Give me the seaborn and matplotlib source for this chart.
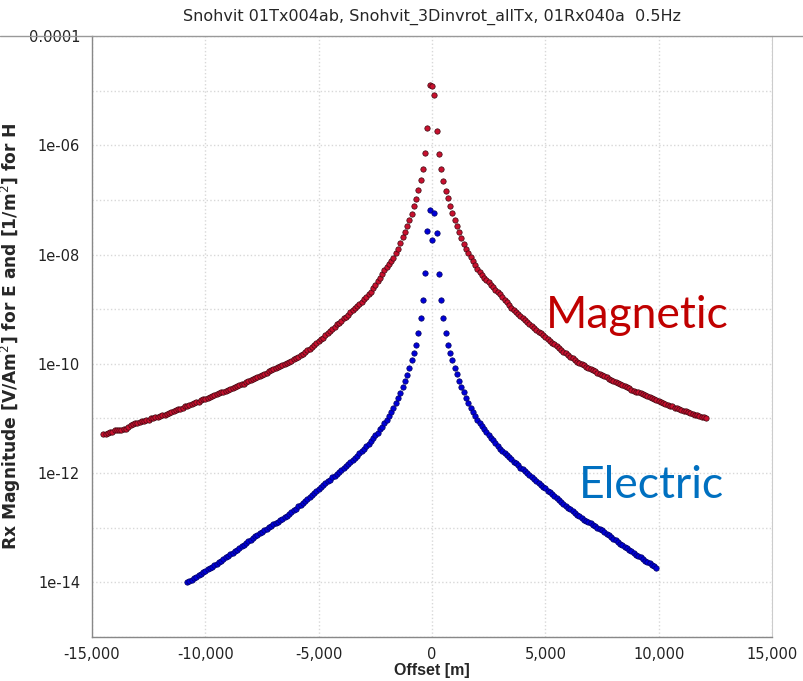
import numpy as np
import pandas as pd
import seaborn as sns
import matplotlib
matplotlib.use("Agg")
import matplotlib.pyplot as plt
from matplotlib.ticker import FixedLocator, FuncFormatter, MultipleLocator
from matplotlib.lines import Line2D

# offsets [m], sampled every 100 m
mag_offset = np.arange(-14500, 12101, 100)
elec_offset = np.arange(-10800, 9901, 100)

# log10 of Rx magnitude
mag_log = [
    -11.29, -11.28, -11.26, -11.25, -11.24, -11.22, -11.22, -11.21, -11.21, -11.20,
    -11.19, -11.16, -11.12, -11.10, -11.09, -11.08, -11.06, -11.05, -11.04, -11.03,
    -11.02, -11.00, -10.99, -10.98, -10.97, -10.95, -10.94, -10.93, -10.91, -10.90,
    -10.88, -10.86, -10.85, -10.83, -10.82, -10.80, -10.78, -10.77, -10.75, -10.73,
    -10.72, -10.70, -10.69, -10.67, -10.65, -10.64, -10.62, -10.61, -10.59, -10.57,
    -10.56, -10.54, -10.52, -10.51, -10.49, -10.47, -10.46, -10.44, -10.42, -10.41,
    -10.39, -10.37, -10.36, -10.34, -10.32, -10.30, -10.28, -10.26, -10.24, -10.22,
    -10.20, -10.18, -10.16, -10.14, -10.12, -10.10, -10.08, -10.06, -10.04, -10.02,
    -10.00, -9.98, -9.96, -9.94, -9.91, -9.89, -9.87, -9.84, -9.82, -9.79,
    -9.75, -9.72, -9.69, -9.66, -9.62, -9.59, -9.55, -9.52, -9.48, -9.44,
    -9.40, -9.36, -9.32, -9.28, -9.25, -9.21, -9.17, -9.14, -9.10, -9.06,
    -9.02, -8.98, -8.94, -8.90, -8.86, -8.82, -8.78, -8.73, -8.68, -8.62,
    -8.55, -8.48, -8.42, -8.35, -8.29, -8.23, -8.18, -8.12, -8.06, -7.98,
    -7.89, -7.78, -7.68, -7.58, -7.47, -7.36, -7.25, -7.12, -6.98, -6.82,
    -6.63, -6.43, -6.15, -5.69, -4.90, -4.91, -5.08, -5.74, -6.16, -6.44,
    -6.65, -6.83, -6.97, -7.12, -7.24, -7.37, -7.48, -7.59, -7.69, -7.80,
    -7.89, -7.97, -8.05, -8.12, -8.19, -8.26, -8.32, -8.37, -8.42, -8.46,
    -8.50, -8.55, -8.59, -8.64, -8.69, -8.73, -8.78, -8.83, -8.87, -8.93,
    -8.97, -9.01, -9.05, -9.09, -9.12, -9.16, -9.19, -9.23, -9.27, -9.30,
    -9.34, -9.38, -9.41, -9.44, -9.48, -9.51, -9.54, -9.58, -9.61, -9.64,
    -9.68, -9.71, -9.74, -9.78, -9.81, -9.84, -9.87, -9.90, -9.93, -9.96,
    -9.99, -10.01, -10.03, -10.05, -10.07, -10.10, -10.12, -10.14, -10.16, -10.18,
    -10.21, -10.23, -10.25, -10.27, -10.29, -10.31, -10.33, -10.35, -10.37, -10.39,
    -10.41, -10.43, -10.45, -10.47, -10.49, -10.51, -10.52, -10.54, -10.56, -10.57,
    -10.59, -10.61, -10.62, -10.64, -10.66, -10.68, -10.69, -10.71, -10.73, -10.75,
    -10.77, -10.78, -10.80, -10.80, -10.83, -10.85, -10.86, -10.87, -10.88, -10.90,
    -10.92, -10.94, -10.94, -10.96, -10.97, -10.98, -10.99,
]

elec_log = [
    -14.00, -13.98, -13.95, -13.92, -13.90, -13.87, -13.84, -13.81, -13.79, -13.76,
    -13.74, -13.71, -13.69, -13.66, -13.63, -13.60, -13.57, -13.54, -13.51, -13.48,
    -13.46, -13.43, -13.40, -13.37, -13.34, -13.31, -13.28, -13.25, -13.22, -13.19,
    -13.16, -13.13, -13.10, -13.07, -13.04, -13.02, -12.99, -12.97, -12.94, -12.92,
    -12.89, -12.86, -12.84, -12.81, -12.79, -12.75, -12.72, -12.68, -12.65, -12.61,
    -12.58, -12.54, -12.51, -12.47, -12.44, -12.40, -12.37, -12.33, -12.29, -12.26,
    -12.22, -12.19, -12.15, -12.12, -12.08, -12.05, -12.01, -11.98, -11.94, -11.91,
    -11.87, -11.83, -11.80, -11.76, -11.72, -11.68, -11.64, -11.60, -11.56, -11.51,
    -11.46, -11.41, -11.36, -11.31, -11.26, -11.20, -11.15, -11.09, -11.03, -10.96,
    -10.89, -10.81, -10.72, -10.63, -10.53, -10.43, -10.32, -10.20, -10.07, -9.93,
    -9.81, -9.65, -9.44, -9.17, -8.83, -8.34, -7.56, -7.19, -7.74, -7.24,
    -7.60, -8.35, -8.83, -9.17, -9.44, -9.65, -9.81, -9.93, -10.07, -10.19,
    -10.31, -10.42, -10.52, -10.62, -10.71, -10.80, -10.88, -10.95, -11.02, -11.08,
    -11.14, -11.19, -11.25, -11.30, -11.35, -11.40, -11.45, -11.50, -11.55, -11.59,
    -11.63, -11.67, -11.71, -11.75, -11.79, -11.82, -11.86, -11.90, -11.93, -11.97,
    -12.00, -12.04, -12.07, -12.11, -12.14, -12.18, -12.21, -12.25, -12.28, -12.32,
    -12.35, -12.39, -12.42, -12.46, -12.49, -12.53, -12.56, -12.60, -12.63, -12.66,
    -12.70, -12.73, -12.76, -12.79, -12.82, -12.85, -12.87, -12.90, -12.92, -12.95,
    -12.97, -13.00, -13.02, -13.05, -13.08, -13.11, -13.14, -13.17, -13.20, -13.23,
    -13.26, -13.29, -13.32, -13.35, -13.37, -13.40, -13.43, -13.46, -13.49, -13.52,
    -13.54, -13.57, -13.60, -13.63, -13.65, -13.68, -13.70, -13.73,
]

ytick_vals = [1e-4, 1e-6, 1e-8, 1e-10, 1e-12, 1e-14]
ytick_labels = ["0.0001", "1e-06", "1e-08", "1e-10", "1e-12", "1e-14"]

mag = pd.DataFrame({"Offset": mag_offset, "Rx": 10.0 ** np.array(mag_log)})
elec = pd.DataFrame({"Offset": elec_offset, "Rx": 10.0 ** np.array(elec_log)})

sns.set_style("white")
plt.rcParams["font.family"] = ["DejaVu Sans"]
plt.rcParams["axes.unicode_minus"] = False

fig = plt.figure(figsize=(8.04, 6.81), dpi=100)
ax = fig.add_axes([0.1144, 0.0646, 0.8458, 0.8825])

sns.scatterplot(data=mag, x="Offset", y="Rx", ax=ax, s=15, color="#c8102e",
                edgecolor="#3a0810", linewidth=0.5, zorder=3)
sns.scatterplot(data=elec, x="Offset", y="Rx", ax=ax, s=15, color="#0000d8",
                edgecolor="#000060", linewidth=0.5, zorder=3)

ax.set_yscale("log")
ax.set_xlim(-15000, 15000)
ax.set_ylim(1e-15, 1e-4)

ax.xaxis.set_major_locator(MultipleLocator(5000))
ax.xaxis.set_minor_locator(MultipleLocator(1000))
ax.xaxis.set_major_formatter(FuncFormatter(lambda v, p: "{:,.0f}".format(v)))
ax.yaxis.set_major_locator(FixedLocator(ytick_vals))
ax.yaxis.set_minor_locator(FixedLocator([10.0 ** e for e in range(-15, -4, 2)]))
ax.set_yticklabels(ytick_labels)
ax.yaxis.set_minor_formatter(FuncFormatter(lambda v, p: ""))

ax.tick_params(axis="both", which="major", direction="out", length=5, width=0.8,
               color="#888888", labelsize=10.5, labelcolor="#222222")
ax.tick_params(axis="both", which="minor", direction="out", length=3, width=0.8,
               color="#888888")
ax.tick_params(axis="x", pad=2)

ax.grid(True, which="major", axis="x", color="#d8d8d8", linestyle=":", linewidth=1)
ax.grid(True, which="both", axis="y", color="#d8d8d8", linestyle=":", linewidth=1)

for side in ["left", "bottom"]:
    ax.spines[side].set_color("#888888")
    ax.spines[side].set_linewidth(1)
ax.spines["right"].set_color("#cccccc")
ax.spines["top"].set_visible(False)

fig.add_artist(Line2D([0, 1], [1 - 36 / 681, 1 - 36 / 681], transform=fig.transFigure,
                      color="#999999", linewidth=1))

ax.set_title("Snohvit 01Tx004ab, Snohvit_3Dinvrot_allTx, 01Rx040a  0.5Hz",
             fontsize=11.5, pad=11)
ax.set_xlabel("Offset [m]", fontsize=11.5, fontweight="bold", labelpad=1,
              family=["Liberation Sans", "DejaVu Sans"])
ax.set_ylabel("Rx Magnitude [V/Am$^2$] for E and [1/m$^2$] for H", fontsize=12.3,
              fontweight="bold", family=["DejaVu Sans"])
ax.yaxis.set_label_coords(-0.102, 0.5)

ax.text(0.668, 0.514, "Magnetic", transform=ax.transAxes, fontsize=32,
        color="#c00000", family=["Lato", "DejaVu Sans"])
ax.text(0.716, 0.231, "Electric", transform=ax.transAxes, fontsize=32,
        color="#0070c0", family=["Lato", "DejaVu Sans"])

fig.savefig("out.png", dpi=100, facecolor="white")
